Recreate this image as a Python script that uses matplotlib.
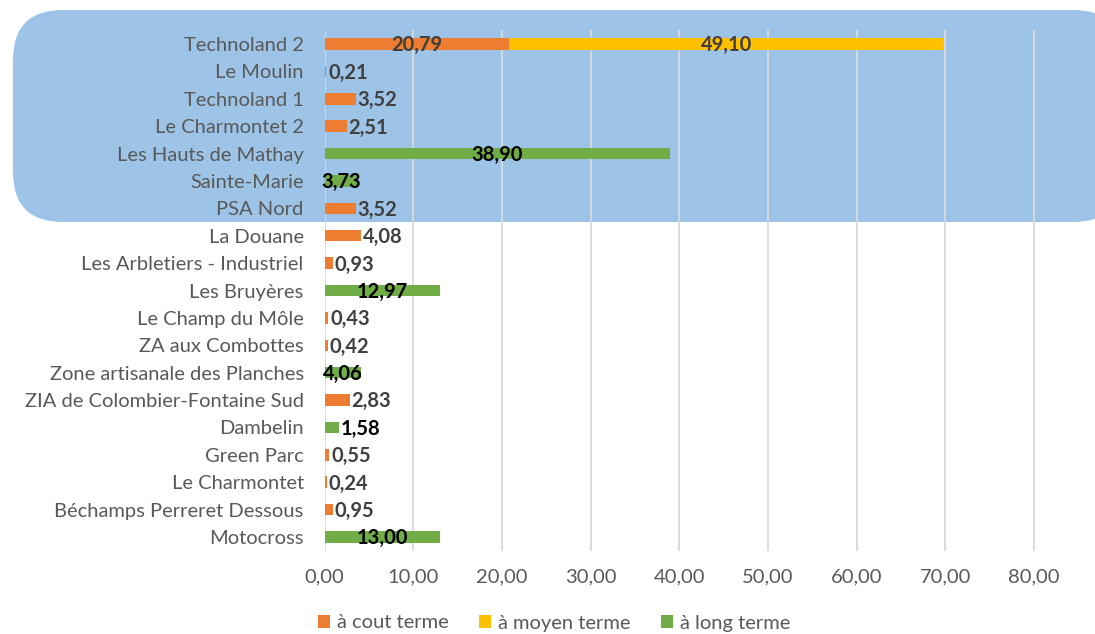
import matplotlib
matplotlib.use('Agg')
import matplotlib.pyplot as plt
from matplotlib.patches import FancyBboxPatch, Patch
from matplotlib.transforms import IdentityTransform
import numpy as np

sites = ['Technoland 2', 'Le Moulin', 'Technoland 1', 'Le Charmontet 2',
         'Les Hauts de Mathay', 'Sainte-Marie', 'PSA Nord', 'La Douane',
         'Les Arbletiers - Industriel', 'Les Bruyères', 'Le Champ du Môle',
         'ZA aux Combottes', 'Zone artisanale des Planches',
         'ZIA de Colombier-Fontaine Sud', 'Dambelin', 'Green Parc',
         'Le Charmontet', 'Béchamps Perreret Dessous', 'Motocross']
court = [20.79, 0.21, 3.52, 2.51, 0, 0, 3.52, 4.08, 0.93, 0, 0.43, 0.42,
         0, 2.83, 0, 0.55, 0.24, 0.95, 0]
moyen = [49.10, 0, 0, 0, 0, 0, 0, 0, 0, 0, 0, 0, 0, 0, 0, 0, 0, 0, 0]
long_ = [0, 0, 0, 0, 38.90, 3.73, 0, 0, 0, 12.97, 0, 0, 4.06, 0, 1.58,
         0, 0, 0, 13.00]
series_names = ['à cout terme', 'à moyen terme', 'à long terme']
xticks = [0, 10, 20, 30, 40, 50, 60, 70, 80]

colors = ['#ED7D31', '#FFC000', '#70AD47']
label_colors = ['#404040', '#404040', '#000000']
center_min = [10, 10, 3]   # bars narrower than this get their label after the bar end
FONT = 'Lato'
FS = 14.5

W, H = 1095, 634
fig = plt.figure(figsize=(W / 100, H / 100), dpi=100)
fig.patch.set_facecolor('white')

# highlight box behind the first rows
box = FancyBboxPatch((13, H - 222), 1110, 212, boxstyle='round,pad=0,rounding_size=50',
                     transform=IdentityTransform(), facecolor='#9DC3E6',
                     edgecolor='none', zorder=0)
fig.patches.append(box)

x0, x1 = 324.5, 324.5 + 85 * 8.87
y_top, y_bot = 30.3, 550.7
ax = fig.add_axes([x0 / W, (H - y_bot) / H, (x1 - x0) / W, (y_bot - y_top) / H])
ax.set_facecolor('none')
ax.set_zorder(1)

y = np.arange(len(sites))
left = np.zeros(len(sites))
for vals, c, lc, cm in zip([court, moyen, long_], colors, label_colors, center_min):
    vals = np.array(vals)
    ax.barh(y, vals, left=left, height=0.42, color=c, zorder=3)
    for yi, (l, v) in enumerate(zip(left, vals)):
        if v <= 0:
            continue
        txt = f'{v:.2f}'.replace('.', ',')
        if v >= cm:
            ax.text(l + v / 2, yi + 0.05, txt, ha='center', va='center', fontsize=FS,
                    fontweight='bold', color=lc, family=FONT, zorder=4)
        else:
            ax.text(l + v + 0.2, yi + 0.05, txt, ha='left', va='center', fontsize=FS,
                    fontweight='bold', color=lc, family=FONT, zorder=4)
    left = left + vals

ax.set_xlim(0, 85)
ax.set_ylim(len(sites) - 0.5, -0.5)
ax.set_yticks(y)
ax.set_yticklabels(sites, fontsize=FS, color='#595959', family=FONT)
ax.set_xticks(xticks)
ax.set_xticklabels([f'{t:.2f}'.replace('.', ',') for t in xticks], fontsize=FS,
                   color='#595959', family=FONT)
ax.tick_params(axis='y', length=0, pad=15)
ax.tick_params(axis='x', length=0, pad=13)
ax.grid(axis='x', color='#D9D9D9', linewidth=1.3, zorder=1)
for s in ax.spines.values():
    s.set_visible(False)

handles = [Patch(facecolor=c, edgecolor='none') for c in colors]
fig.legend(handles, series_names, loc='center', bbox_to_anchor=(554 / W, 11 / H),
           ncol=3, frameon=False, handlelength=0.6, handleheight=0.6,
           handletextpad=0.35, columnspacing=1.5,
           prop={'family': FONT, 'size': FS}, labelcolor='#595959')

fig.savefig('out.png', dpi=100)
